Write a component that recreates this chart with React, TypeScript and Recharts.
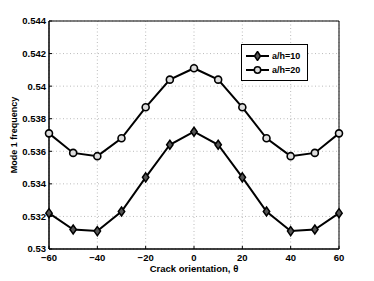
import React from "react";
import {
  LineChart,
  Line,
  XAxis,
  YAxis,
  CartesianGrid,
  ReferenceArea,
  Legend,
} from "recharts";

const angles = [-60, -50, -40, -30, -20, -10, 0, 10, 20, 30, 40, 50, 60];
const ah10 = [0.5322, 0.5312, 0.5311, 0.5323, 0.5344, 0.5364, 0.5372, 0.5364, 0.5344, 0.5323, 0.5311, 0.5312, 0.5322];
const ah20 = [0.5371, 0.5359, 0.5357, 0.5368, 0.5387, 0.5404, 0.5411, 0.5404, 0.5387, 0.5368, 0.5357, 0.5359, 0.5371];
const xTicks = [-60, -40, -20, 0, 20, 40, 60];
const yTicks = [0.53, 0.532, 0.534, 0.536, 0.538, 0.54, 0.542, 0.544];
const seriesNames = ["a/h=10", "a/h=20"];

const data = angles.map((a, i) => ({ theta: a, s10: ah10[i], s20: ah20[i] }));

const FONT = "'Liberation Sans', Arial, Helvetica, sans-serif";

const Diamond = (props: any) => {
  const { cx, cy } = props;
  if (cx == null || cy == null) return null;
  return (
    <path
      d={`M${cx},${cy - 4.5} L${cx + 3.2},${cy} L${cx},${cy + 4.5} L${cx - 3.2},${cy} Z`}
      fill="#555"
      stroke="#000"
      strokeWidth={1.5}
    />
  );
};

const Circ = (props: any) => {
  const { cx, cy } = props;
  if (cx == null || cy == null) return null;
  return <circle cx={cx} cy={cy} r={3.5} fill="#ddd" stroke="#000" strokeWidth={1.6} />;
};

const fmtX = (v: number) => (v < 0 ? "\u2212" + Math.abs(v) : String(v));
const fmtY = (v: number) => String(Number(v.toFixed(3)));

const LegendBox = () => (
  <div
    style={{
      width: 67,
      height: 37,
      border: "1px solid #000",
      background: "#fff",
      fontFamily: FONT,
      fontWeight: "bold",
      fontSize: 9,
      boxSizing: "border-box",
      padding: "4px 0 0 3px",
    }}
  >
    {seriesNames.map((n, i) => (
      <div key={n} style={{ display: "flex", alignItems: "center", height: 14 }}>
        <svg width={25} height={10}>
          <line x1={1} y1={5} x2={24} y2={5} stroke="#000" strokeWidth={2} />
          {i === 0 ? (
            <path d="M12.5,0.5 L15.5,5 L12.5,9.5 L9.5,5 Z" fill="#555" stroke="#000" strokeWidth={1.5} />
          ) : (
            <circle cx={12.5} cy={5} r={3.2} fill="#ddd" stroke="#000" strokeWidth={1.5} />
          )}
        </svg>
        <span style={{ marginLeft: 2 }}>{n}</span>
      </div>
    ))}
  </div>
);

export default function App() {
  return (
    <div style={{ position: "absolute", left: 0, top: 0, width: 374, height: 281, background: "#fff" }}>
      <LineChart
        width={374}
        height={281}
        data={data}
        margin={{ top: 21, right: 35, left: 0, bottom: 0 }}
      >
        <CartesianGrid stroke="#bbb" strokeDasharray="1 2.5" />
        <XAxis
          dataKey="theta"
          type="number"
          domain={[-60, 60]}
          ticks={xTicks}
          tickFormatter={fmtX}
          height={32}
          axisLine={{ stroke: "#000", strokeWidth: 1 }}
          tickLine={{ stroke: "#000" }}
          tickSize={-3}
          tickMargin={8}
          tick={{ fill: "#000", fontSize: 9.5, fontWeight: "bold", fontFamily: FONT }}
          label={{
            value: "Crack orientation, \u03b8",
            position: "insideBottom",
            offset: 9,
            style: { fill: "#000", fontSize: 9.5, fontWeight: "bold", fontFamily: FONT },
          }}
        />
        <YAxis
          type="number"
          domain={[0.53, 0.544]}
          ticks={yTicks}
          tickFormatter={fmtY}
          width={49}
          axisLine={{ stroke: "#000", strokeWidth: 1 }}
          tickLine={{ stroke: "#000" }}
          tickSize={-3}
          tickMargin={6}
          tick={{ fill: "#000", fontSize: 9.5, fontWeight: "bold", fontFamily: FONT }}
          label={{
            value: "Mode 1 frequency",
            angle: -90,
            position: "insideLeft",
            offset: 14,
            style: { fill: "#000", fontSize: 9, fontWeight: "bold", fontFamily: FONT, textAnchor: "middle" },
          }}
        />
        <ReferenceArea x1={-60} x2={60} y1={0.53} y2={0.544} fill="none" stroke="#000" strokeWidth={1} ifOverflow="visible" />
        <Line
          dataKey="s10"
          name={seriesNames[0]}
          stroke="#000"
          strokeWidth={2}
          dot={<Diamond />}
          isAnimationActive={false}
        />
        <Line
          dataKey="s20"
          name={seriesNames[1]}
          stroke="#000"
          strokeWidth={2}
          dot={<Circ />}
          isAnimationActive={false}
        />
        <Legend
          layout="vertical"
          verticalAlign="middle"
          align="center"
          wrapperStyle={{ left: 241, top: 44, width: 67, height: 37 }}
          content={() => <LegendBox />}
        />
      </LineChart>
    </div>
  );
}
